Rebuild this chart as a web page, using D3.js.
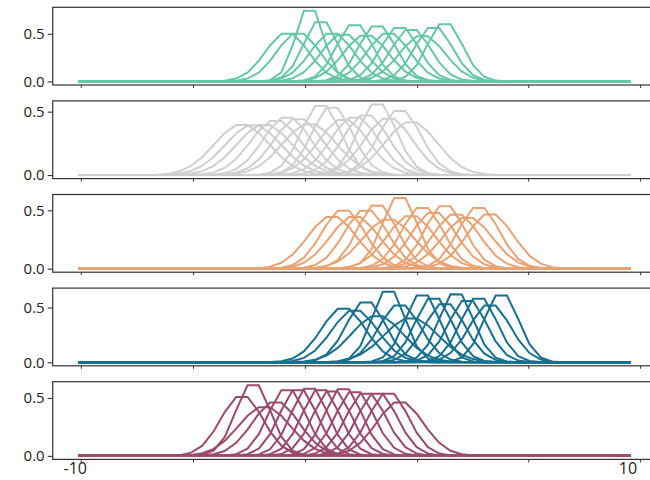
<!DOCTYPE html>
<html>
<head>
<meta charset="utf-8">
<script src="https://cdn.jsdelivr.net/npm/d3@7"></script>
<style>
  html, body { margin: 0; padding: 0; background: #ffffff; }
  svg { display: block; }
  .tick text { font-family: "Open Sans", "DejaVu Sans", sans-serif; }
</style>
</head>
<body>
<svg id="chart" width="650" height="480"></svg>
<script>
// ---------------- data ----------------
const panelColors = ["#66c6a7", "#cfcfcf", "#e8a273", "#16708f", "#9a4a6b"];

// centre (x) and visible top height of each density curve, per panel
const means1 = [-2.449, -2.041, -1.633, -1.224, -0.816, -0.408, 0.000, 0.408, 0.816, 1.224, 1.633, 2.041, 2.449, 2.857, 3.265];
const peaks1 = [0.50, 0.50, 0.74, 0.62, 0.50, 0.49, 0.59, 0.48, 0.575, 0.50, 0.56, 0.54, 0.475, 0.56, 0.60];

const means2 = [-4.082, -3.673, -3.265, -2.857, -2.449, -2.041, -1.633, -1.224, -0.816, -0.408, 0.000, 0.408, 0.816, 1.224, 1.633, 2.041];
const peaks2 = [0.394, 0.39, 0.394, 0.427, 0.453, 0.44, 0.40, 0.544, 0.53, 0.435, 0.453, 0.47, 0.557, 0.445, 0.505, 0.415];

const means3 = [-0.816, -0.408, 0.000, 0.408, 0.816, 1.224, 1.633, 2.041, 2.449, 2.857, 3.265, 3.673, 4.082, 4.490, 4.898];
const peaks3 = [0.443, 0.497, 0.443, 0.497, 0.54, 0.42, 0.605, 0.45, 0.52, 0.477, 0.534, 0.463, 0.435, 0.52, 0.463];

const means4 = [-0.408, 0.000, 0.408, 0.816, 1.224, 1.633, 2.041, 2.449, 2.857, 3.265, 3.673, 4.082, 4.490, 4.898, 5.306];
const peaks4 = [0.488, 0.47, 0.545, 0.42, 0.645, 0.518, 0.40, 0.61, 0.58, 0.53, 0.62, 0.56, 0.58, 0.518, 0.61];

const means5 = [-4.082, -3.673, -3.265, -2.857, -2.449, -2.041, -1.633, -1.224, -0.816, -0.408, 0.000, 0.408, 0.816, 1.224, 1.633];
const peaks5 = [0.509, 0.61, 0.42, 0.46, 0.566, 0.566, 0.58, 0.566, 0.557, 0.575, 0.55, 0.537, 0.537, 0.537, 0.46];

const panelMeans = [means1, means2, means3, means4, means5];
const panelPeaks = [peaks1, peaks2, peaks3, peaks4, peaks5];

// axis ticks
const yTickValues = [0.0, 0.5];
const xTickPositions = [-9.91, -5.85, -1.80, 2.26, 6.28, 10.33];
const xLabelValues = [-10, 10];
const xLabelTexts = ["-10", "10"];

// x sample grid of the plotted densities
const xDomain = [-10, 10];
const nSamples = 50;

// ---------------- drawing ----------------
const svg = d3.select("#chart");
const axLeft = 52.7, axRight = 657;
const panelTop0 = 7.3, panelPitch = 93.6, panelH = 77.7;

const x = d3.scaleLinear().domain(xDomain).range([78.3, 631]);
const step = (xDomain[1] - xDomain[0]) / (nSamples - 1);
const xGrid = d3.range(nSamples).map(i => xDomain[0] + i * step);

// normal density whose sampled top (half a step from the centre) equals the visible top
function densityCurve(mu, top) {
  let p = top;
  for (let it = 0; it < 8; it++) {
    const s = 1 / (p * Math.sqrt(2 * Math.PI));
    p = top * Math.exp((step / 2) ** 2 / (2 * s * s));
  }
  const sigma = 1 / (p * Math.sqrt(2 * Math.PI));
  return xGrid.map(xv => [xv, p * Math.exp(-((xv - mu) ** 2) / (2 * sigma * sigma))]);
}

panelMeans.forEach((means, i) => {
  const top = panelTop0 + i * panelPitch;
  const bottom = top + panelH;
  const curves = means.map((mu, j) => densityCurve(mu, panelPeaks[i][j]));
  const ymax = d3.max(curves, c => d3.max(c, d => d[1]));
  const y = d3.scaleLinear().domain([-0.05 * ymax, 1.05 * ymax]).range([bottom, top]);

  const g = svg.append("g");

  const line = d3.line().x(d => x(d[0])).y(d => y(d[1]));
  g.selectAll("path.curve").data(curves).enter().append("path")
    .attr("class", "curve")
    .attr("d", line)
    .attr("fill", "none")
    .attr("stroke", panelColors[i])
    .attr("stroke-width", 2)
    .attr("stroke-linejoin", "miter");

  // frame
  g.append("rect")
    .attr("x", axLeft).attr("y", top)
    .attr("width", axRight - axLeft).attr("height", panelH)
    .attr("fill", "none").attr("stroke", "#333").attr("stroke-width", 1.2);

  // y axis
  const ya = g.append("g").attr("transform", `translate(${axLeft},0)`)
    .call(d3.axisLeft(y).tickValues(yTickValues).tickFormat(d3.format(".1f")).tickSize(5).tickPadding(3));
  ya.select(".domain").remove();
  ya.selectAll(".tick line").attr("stroke", "#333").attr("stroke-width", 1.1);
  ya.selectAll(".tick text").attr("font-size", 15).attr("fill", "#222");

  // x axis ticks (unlabelled)
  const xa = g.append("g").attr("transform", `translate(0,${bottom})`)
    .call(d3.axisBottom(x).tickValues(xTickPositions).tickFormat("").tickSize(3));
  xa.select(".domain").remove();
  xa.selectAll(".tick line").attr("stroke", "#333").attr("stroke-width", 1);

  if (i === panelMeans.length - 1) {
    g.selectAll("text.xlab").data(xLabelValues).enter().append("text")
      .attr("class", "xlab")
      .attr("x", d => x(d))
      .attr("dx", -3)
      .attr("y", 474)
      .attr("text-anchor", "middle")
      .attr("font-family", "'Open Sans', 'DejaVu Sans', sans-serif")
      .attr("font-size", 16)
      .attr("fill", "#222")
      .text((d, k) => xLabelTexts[k]);
  }
});
</script>
</body>
</html>
